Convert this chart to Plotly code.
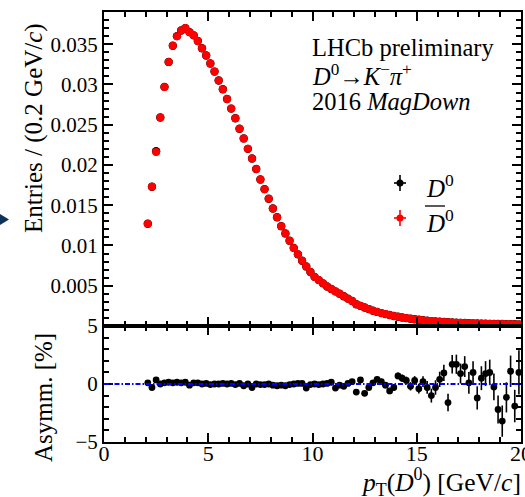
import plotly.graph_objects as go

# ---------------- data ----------------
pt = [2.1, 2.3, 2.5, 2.7, 2.9, 3.1, 3.3, 3.5, 3.7, 3.9,
      4.1, 4.3, 4.5, 4.7, 4.9, 5.1, 5.3, 5.5, 5.7, 5.9,
      6.1, 6.3, 6.5, 6.7, 6.9, 7.1, 7.3, 7.5, 7.7, 7.9,
      8.1, 8.3, 8.5, 8.7, 8.9, 9.1, 9.3, 9.5, 9.7, 9.9,
      10.1, 10.3, 10.5, 10.7, 10.9, 11.1, 11.3, 11.5, 11.7, 11.9,
      12.1, 12.3, 12.5, 12.7, 12.9, 13.1, 13.3, 13.5, 13.7, 13.9,
      14.1, 14.3, 14.5, 14.7, 14.9, 15.1, 15.3, 15.5, 15.7, 15.9,
      16.1, 16.3, 16.5, 16.7, 16.9, 17.1, 17.3, 17.5, 17.7, 17.9,
      18.1, 18.3, 18.5, 18.7, 18.9, 19.1, 19.3, 19.5, 19.7, 19.9]

dbar0 = [0.0127, 0.0173, 0.0216, 0.0259, 0.0297, 0.0328, 0.0348, 0.0360, 0.0367, 0.0370,
         0.0365, 0.0361, 0.0354, 0.0345, 0.0336, 0.0326, 0.0316, 0.0305, 0.0294, 0.0282,
         0.0270, 0.0258, 0.0245, 0.0233, 0.0220, 0.0208, 0.0195, 0.0182, 0.0170, 0.0158,
         0.0146, 0.0135, 0.0124, 0.0115, 0.0106, 0.0097, 0.0089, 0.0081, 0.0074, 0.0067,
         0.0061, 0.0057, 0.0053, 0.0049, 0.0046, 0.0043, 0.0040, 0.0037, 0.0034, 0.0031,
         0.0027, 0.0025, 0.0023, 0.0021, 0.0019, 0.00175, 0.0016, 0.00148, 0.00136, 0.00125,
         0.00115, 0.00106, 0.00098, 0.0009, 0.00083, 0.00077, 0.00071, 0.00066, 0.00061, 0.00057,
         0.00053, 0.0005, 0.00047, 0.00044, 0.00041, 0.00039, 0.00037, 0.00035, 0.00033, 0.00031,
         0.0003, 0.00028, 0.00027, 0.00026, 0.00025, 0.00024, 0.00023, 0.00022, 0.00021, 0.0002]

d0 = [0.0127, 0.0173, 0.0217, 0.0259, 0.0297, 0.0328, 0.0348, 0.0360, 0.0367, 0.0370,
      0.0365, 0.0361, 0.0354, 0.0345, 0.0336, 0.0326, 0.0316, 0.0305, 0.0294, 0.0282,
      0.0270, 0.0258, 0.0245, 0.0233, 0.0220, 0.0208, 0.0195, 0.0182, 0.0170, 0.0158,
      0.0146, 0.0135, 0.0124, 0.0115, 0.0106, 0.0097, 0.0089, 0.0081, 0.0074, 0.0067,
      0.0061, 0.0057, 0.0053, 0.0049, 0.0046, 0.0043, 0.0040, 0.0037, 0.0034, 0.0031,
      0.0027, 0.0025, 0.0023, 0.0021, 0.0019, 0.00175, 0.0016, 0.00148, 0.00136, 0.00125,
      0.00115, 0.00106, 0.00098, 0.0009, 0.00083, 0.00077, 0.00071, 0.00066, 0.00061, 0.00057,
      0.00053, 0.0005, 0.00047, 0.00044, 0.00041, 0.00039, 0.00037, 0.00035, 0.00033, 0.00031,
      0.0003, 0.00028, 0.00027, 0.00026, 0.00025, 0.00024, 0.00023, 0.00022, 0.00021, 0.0002]

asym = [0.1, -0.3, 0.35, 0.0, 0.1, 0.15, 0.1, 0.15, 0.1, 0.15,
        -0.1, 0.1, 0.1, 0.0, 0.05, -0.05, 0.0, 0.0, 0.05, 0.0,
        0.05, -0.05, 0.05, -0.15, 0.0, -0.3, 0.0, -0.05, -0.05, 0.0,
        -0.1, -0.15, -0.1, -0.15, -0.05, 0.0, 0.05, 0.05, -0.35, -0.05,
        0.0, -0.05, 0.0, 0.05, 0.15, -0.35, -0.1, -0.2, 0.05, 0.2,
        -0.7, 0.35, -0.8, -0.3, 0.1, 0.4, 0.2, -0.1, -0.6, -0.3,
        0.7, 0.5, 0.3, -0.2, 0.3, -0.4, 0.2, -0.3, -1.0, -0.3,
        0.4, 0.95, -1.6, 1.7, 1.7, 0.9, 1.5, 0.1, 1.0, -1.2,
        0.5, 0.9, 1.0, -0.25, -2.2, -3.2, -1.15, 1.1, -1.9, 1.0]

asym_err = [0.06, 0.06, 0.06, 0.06, 0.06, 0.06, 0.06, 0.06, 0.06, 0.06,
            0.06, 0.06, 0.06, 0.06, 0.06, 0.06, 0.06, 0.06, 0.06, 0.06,
            0.07, 0.07, 0.07, 0.07, 0.07, 0.08, 0.08, 0.08, 0.08, 0.08,
            0.09, 0.09, 0.09, 0.1, 0.1, 0.1, 0.1, 0.11, 0.11, 0.12,
            0.12, 0.13, 0.13, 0.14, 0.14, 0.15, 0.15, 0.16, 0.17, 0.18,
            0.19, 0.2, 0.21, 0.22, 0.23, 0.24, 0.25, 0.26, 0.27, 0.28,
            0.3, 0.32, 0.34, 0.36, 0.38, 0.42, 0.46, 0.55, 0.6, 0.62,
            0.66, 0.7, 0.75, 0.8, 0.83, 0.86, 0.9, 0.93, 0.96, 1.0,
            1.03, 1.07, 1.1, 1.15, 1.2, 1.35, 1.3, 1.35, 1.4, 1.9]

top_ticks = [0.005, 0.01, 0.015, 0.02, 0.025, 0.03, 0.035]
top_ticklabels = ["0.005", "0.01", "0.015", "0.02", "0.025", "0.03", "0.035"]
bot_ticks = [-5, 0, 5]
bot_ticklabels = ["\u22125", "0", "5"]
x_ticks = [0, 5, 10, 15, 20]
x_ticklabels = ["0", "5", "10", "15", "20"]

# ---------------- layout helpers ----------------
W, H = 525, 497
L, R, T, B = 104, 4, 12, 55
PW, PH = W - L - R, H - T - B
split = (442 - 326) / PH
FONT = "Liberation Serif, Times New Roman, serif"


def px(x):
    return (x - L) / PW


def py(y):
    return (H - B - y) / PH


fig = go.Figure()

fig.add_trace(go.Scatter(x=pt, y=d0, mode="markers", xaxis="x", yaxis="y",
                         marker=dict(color="black", size=8.4, line=dict(width=0)),
                         showlegend=False))
fig.add_trace(go.Scatter(x=pt, y=dbar0, mode="markers", xaxis="x", yaxis="y",
                         marker=dict(color="#ff0000", size=8, line=dict(width=0)),
                         showlegend=False))
fig.add_trace(go.Scatter(x=pt, y=asym, mode="markers", xaxis="x2", yaxis="y2",
                         marker=dict(color="black", size=6.8),
                         error_y=dict(type="data", array=asym_err, color="black",
                                      thickness=1.6, width=0),
                         showlegend=False))

axis_common = dict(range=[0, 20], showline=True, linecolor="black", linewidth=2,
                   mirror="allticks", ticks="inside", ticklen=9, tickwidth=1.5,
                   tickcolor="black", showgrid=False, zeroline=False,
                   automargin=False,
                   minor=dict(ticks="inside", ticklen=5, tickwidth=1.5,
                              tickcolor="black", dtick=1, showgrid=False))

fig.update_layout(
    width=W, height=H,
    margin=dict(l=L, r=R, t=T, b=B, autoexpand=False),
    paper_bgcolor="white", plot_bgcolor="white",
    font=dict(family=FONT, color="black", size=21),
    xaxis=dict(anchor="y", tickvals=x_ticks, ticktext=x_ticklabels,
               showticklabels=False, **axis_common),
    xaxis2=dict(anchor="y2", matches="x", tickvals=x_ticks, ticktext=x_ticklabels,
                showticklabels=True, ticklabeloverflow="allow", ticklabelstandoff=-9,
                tickfont=dict(size=22, family=FONT), **axis_common),
    yaxis=dict(domain=[split, 1], range=[0, 0.039], tickvals=top_ticks,
               ticktext=top_ticklabels, showline=True, linecolor="black",
               linewidth=2, mirror="allticks", ticks="inside", ticklen=9,
               tickwidth=1.5, tickcolor="black", showgrid=False, zeroline=False,
               automargin=False, tickfont=dict(size=21, family=FONT),
               minor=dict(ticks="inside", ticklen=5, tickwidth=1.5,
                          tickcolor="black", dtick=0.001, showgrid=False)),
    yaxis2=dict(domain=[0, split], range=[-5, 5], tickvals=bot_ticks,
                ticktext=bot_ticklabels, showline=True, linecolor="black",
                linewidth=2, mirror="allticks", ticks="inside", ticklen=9,
                tickwidth=1.5, tickcolor="black", showgrid=False, zeroline=False,
                automargin=False, tickfont=dict(size=21, family=FONT),
                minor=dict(ticks="inside", ticklen=5, tickwidth=1.5,
                           tickcolor="black", dtick=1, showgrid=False)),
)

# zero line in asymmetry panel
fig.add_shape(type="line", xref="x2", yref="y2", x0=0, x1=20, y0=0, y1=0,
              line=dict(color="#0000ff", width=2, dash="5px,2px,1.5px,2px"))

ann = []


def text(x, y, s, size=24.5, xanchor="left", yanchor="middle", angle=0):
    ann.append(dict(x=px(x), y=py(y), xref="paper", yref="paper", text=s,
                    showarrow=False, xanchor=xanchor, yanchor=yanchor,
                    textangle=angle, font=dict(family=FONT, size=size, color="black")))


text(310, 47, "LHCb preliminary")
text(310, 75, "<i>D</i><sup>0</sup>\u2192<i>K</i><sup>\u2212</sup><i>\u03c0</i><sup>+</sup>")
text(310, 101, "2016 <i>MagDown</i>")
text(424, 186, "<i>D</i><sup>0</sup>", size=25)
text(424, 221, "<i>D</i><sup>0</sup>", size=25)
text(34, 128, "Entries / (0.2 GeV/<i>c</i>)", size=25, xanchor="center", angle=-90)
text(43, 398, "Asymm. [%]", size=25, xanchor="center", angle=-90)
text(523, 482, "<i>p</i><sub>T</sub>(<i>D</i><sup>0</sup>) [GeV/<i>c</i>]", size=25.5,
     xanchor="right")
fig.update_layout(annotations=ann)

# legend glyphs (marker + error cross)
for (cy, col) in [(183, "black"), (218, "#ff0000")]:
    fig.add_shape(type="line", xref="paper", yref="paper", x0=px(400), x1=px(400),
                  y0=py(cy - 8), y1=py(cy + 8), line=dict(color=col, width=1.6))
    fig.add_shape(type="line", xref="paper", yref="paper", x0=px(394), x1=px(406),
                  y0=py(cy), y1=py(cy), line=dict(color=col, width=1.6))
    fig.add_shape(type="circle", xref="paper", yref="paper", x0=px(396.5), x1=px(403.5),
                  y0=py(cy - 3.5), y1=py(cy + 3.5), fillcolor=col, line=dict(width=0))

# overline of anti-D
fig.add_shape(type="line", xref="paper", yref="paper", x0=px(425), x1=px(445),
              y0=py(206), y1=py(206), line=dict(color="black", width=1.3))

# small dark arrow at the left border
fig.add_shape(type="path", xref="paper", yref="paper",
              path="M {} {} L {} {} L {} {} Z".format(px(0), py(214), px(9), py(219.5),
                                                      px(0), py(225)),
              fillcolor="#10325a", line=dict(width=0))

fig.write_html("out.html")
